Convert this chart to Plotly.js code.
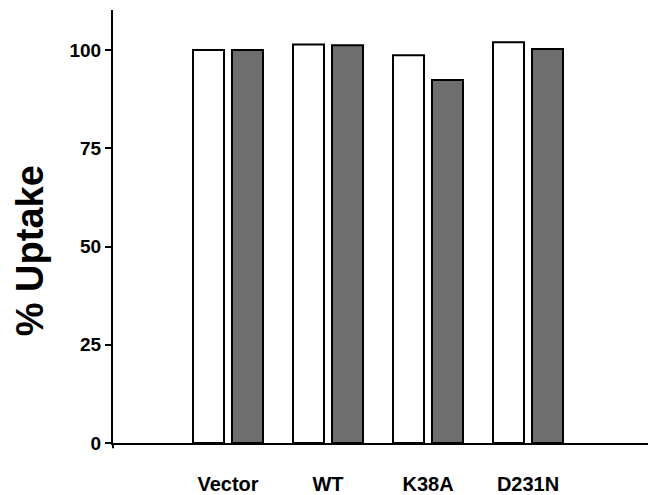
<!DOCTYPE html>
<html>
<head>
<meta charset="utf-8">
<script src="https://cdn.plot.ly/plotly-3.0.1.min.js"></script>
<style>html,body{margin:0;padding:0;background:#fff;}#chart{width:654px;height:495px;}</style>
</head>
<body>
<div id="chart"></div>
<script>
const categories = ["Vector", "WT", "K38A", "D231N"];
const seriesWhite = [100, 101.4, 98.7, 102.0];
const seriesGray = [100, 101.2, 92.4, 100.3];
const yTickVals = [0, 25, 50, 75, 100];
const yTickText = ["0", "25", "50", "75", "100"];

const xIdx = categories.map((c, i) => i);
const font = "Liberation Sans, Arial, sans-serif";

const traces = [
  {
    type: "bar", x: xIdx, y: seriesWhite,
    width: 0.31, offset: -0.35,
    marker: {color: "#ffffff", line: {color: "#000000", width: 2}},
    hoverinfo: "none"
  },
  {
    type: "bar", x: xIdx, y: seriesGray,
    width: 0.31, offset: 0.04,
    marker: {color: "#6e6e6e", line: {color: "#000000", width: 2}},
    hoverinfo: "none"
  }
];

const layout = {
  width: 654, height: 495,
  margin: {l: 113, r: 6, t: 10, b: 52},
  paper_bgcolor: "#ffffff", plot_bgcolor: "#ffffff",
  showlegend: false,
  barmode: "overlay",
  xaxis: {
    range: [-1.15, 4.2],
    tickmode: "array", tickvals: xIdx, ticktext: categories,
    showline: true, linecolor: "#000000", linewidth: 2,
    ticks: "", showgrid: false, zeroline: false,
    ticklabelstandoff: 22,
    tickfont: {family: font, size: 20, color: "#000000", weight: "bold"}
  },
  yaxis: {
    range: [0, 110.2],
    tickmode: "array", tickvals: yTickVals, ticktext: yTickText,
    showline: true, linecolor: "#000000", linewidth: 2,
    ticks: "outside", ticklen: 6, tickwidth: 2, tickcolor: "#000000",
    showgrid: false, zeroline: false,
    tickfont: {family: font, size: 19, color: "#000000", weight: "bold"}
  },
  shapes: [
    {type: "line", xref: "paper", yref: "paper", x0: 0, x1: 0, y0: -0.012, y1: 0,
     line: {color: "#000000", width: 2}}
  ],
  annotations: [
    {text: "% Uptake", xref: "paper", yref: "paper", x: -0.155, y: 0.443,
     xanchor: "center", yanchor: "middle", textangle: -90, showarrow: false,
     font: {family: font, size: 38, color: "#000000", weight: "bold"}}
  ]
};

Plotly.newPlot("chart", traces, layout, {displayModeBar: false, staticPlot: true});
</script>
</body>
</html>
